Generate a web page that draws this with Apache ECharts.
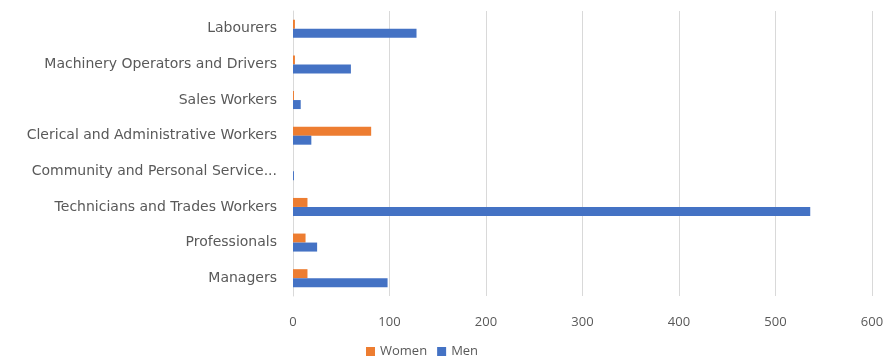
<!DOCTYPE html>
<html>
<head>
<meta charset="utf-8">
<script src="https://cdn.jsdelivr.net/npm/echarts@6/dist/echarts.min.js"></script>
<style>
  html, body { margin: 0; padding: 0; background: #fff; }
  #chart { width: 887px; height: 360px; }
</style>
</head>
<body>
<div id="chart"></div>
<script>
// categories listed bottom -> top (category axis starts at the bottom)
var categories = [
  "Managers",
  "Professionals",
  "Technicians and Trades Workers",
  "Community and Personal Service Workers",
  "Clerical and Administrative Workers",
  "Sales Workers",
  "Machinery Operators and Drivers",
  "Labourers"
];
var women = [15, 13, 15, 0, 81, 1, 2, 2];
var men = [98, 25, 536, 1, 19, 8, 60, 128];
var legendNames = ["Women", "Men"];

var myChart = echarts.init(document.getElementById('chart'));
myChart.setOption({
  animation: false,
  color: ["#ED7D31", "#4472C4"],
  textStyle: { fontFamily: "Open Sans" },
  legend: {
    data: legendNames,
    left: 361,
    top: 340,
    itemWidth: 9,
    itemHeight: 9,
    itemGap: 10,
    icon: "rect",
    textStyle: { color: "#595959", fontSize: 13 }
  },
  grid: {
    left: 293,
    right: 15,
    top: 11,
    height: 285
  },
  xAxis: {
    type: "value",
    min: 0,
    max: 600,
    interval: 100,
    axisLine: { show: false },
    axisTick: { show: false },
    splitLine: { lineStyle: { color: "#d9d9d9" } },
    axisLabel: { color: "#595959", fontSize: 13, margin: 20 }
  },
  yAxis: {
    type: "category",
    data: categories,
    axisLine: { show: true, lineStyle: { color: "#d9d9d9" } },
    axisTick: { show: false },
    axisLabel: {
      color: "#595959",
      fontFamily: "DejaVu Sans",
      fontSize: 14,
      margin: 16,
      // long names get cut like the original
      formatter: function (v) {
        return v.length > 36 ? v.slice(0, 30) + "..." : v;
      }
    }
  },
  series: [
    {
      name: "Women",
      type: "bar",
      data: women,
      barWidth: 9,
      barGap: "0%"
    },
    {
      name: "Men",
      type: "bar",
      data: men,
      barWidth: 9,
      barGap: "0%"
    }
  ]
});
</script>
</body>
</html>
